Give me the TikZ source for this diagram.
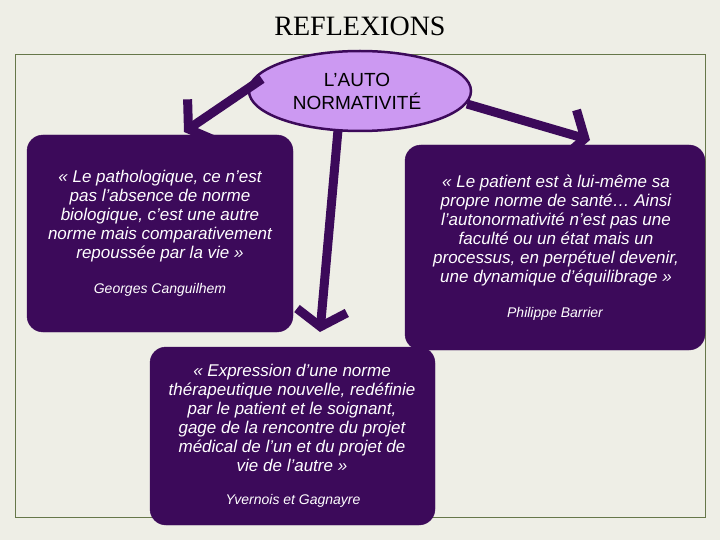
\documentclass[tikz,border=0pt]{standalone}
\usepackage{fontspec}
\setmainfont{Liberation Sans}
\newfontfamily\serifx{Liberation Serif}
\usetikzlibrary{arrows.meta,shapes.geometric}
\definecolor{bg}{HTML}{EEEEE6}
\definecolor{dp}{HTML}{3C0A5A}
\definecolor{lp}{HTML}{CC99F2}
\definecolor{fr}{HTML}{66774A}
\tikzset{
  box/.style={fill=dp,draw=dp,rounded corners=16pt,text=white},
  quote/.style={text=white,align=center,font=\itshape\fontsize{17}{19}\selectfont},
  auth/.style={text=white,font=\itshape\fontsize{14}{16}\selectfont},
  arr/.style={draw=dp,line width=9pt,-{Straight Barb[length=16pt,width=50pt,line width=9pt]}}
}
\begin{document}
\begin{tikzpicture}[x=1pt,y=-1pt]
\fill[bg] (0,0) rectangle (720,540);
\useasboundingbox (0,0) rectangle (720,540);
\draw[fr,line width=1pt] (15,55) rectangle (705,517);
\node[font=\serifx\fontsize{28}{30}\selectfont] (t) at (360,26) {REFLEXIONS};
% boxes
\draw[box] (27,135) rectangle (293,332);
\draw[box] (405,145) rectangle (705,350);
\draw[box] (150,347) rectangle (435,525);
\node[quote] (q1) at (160,216) {« Le pathologique, ce n’est\\pas l’absence de norme\\biologique, c’est une autre\\norme mais comparativement\\repoussée par la vie »};
\node[auth] (a1) at (160,290) {Georges Canguilhem};
\node[quote] (q2) at (556,231) {« Le patient est à lui-même sa\\propre norme de santé… Ainsi\\l’autonormativité n’est pas une\\faculté ou un état mais un\\processus, en perpétuel devenir,\\une dynamique d’équilibrage »};
\node[auth] (a2) at (555,314) {Philippe Barrier};
\node[quote] (q3) at (292,418) {« Expression d’une norme\\thérapeutique nouvelle, redéfinie\\par le patient et le soignant,\\gage de la rencontre du projet\\médical de l’un et du projet de\\vie de l’autre »};
\node[auth] (a3) at (293,501) {Yvernois et Gagnayre};
% arrows
\coordinate (e1) at (184,132);
\coordinate (e2) at (590,140);
\coordinate (e3) at (320,332);
\node[ellipse,fill=lp,draw=dp,line width=2.5pt,minimum width=222pt,minimum height=80pt] (ell) at (360,91) {};
\draw[arr] (262,79) -- (e1);
\draw[arr] (467,104) -- (e2);
\draw[arr] (338,130) -- (e3);
\node[font=\fontsize{19}{23}\selectfont,align=center] (lab) at (357,91) {L’AUTO\\NORMATIVITÉ};
\end{tikzpicture}
\end{document}
